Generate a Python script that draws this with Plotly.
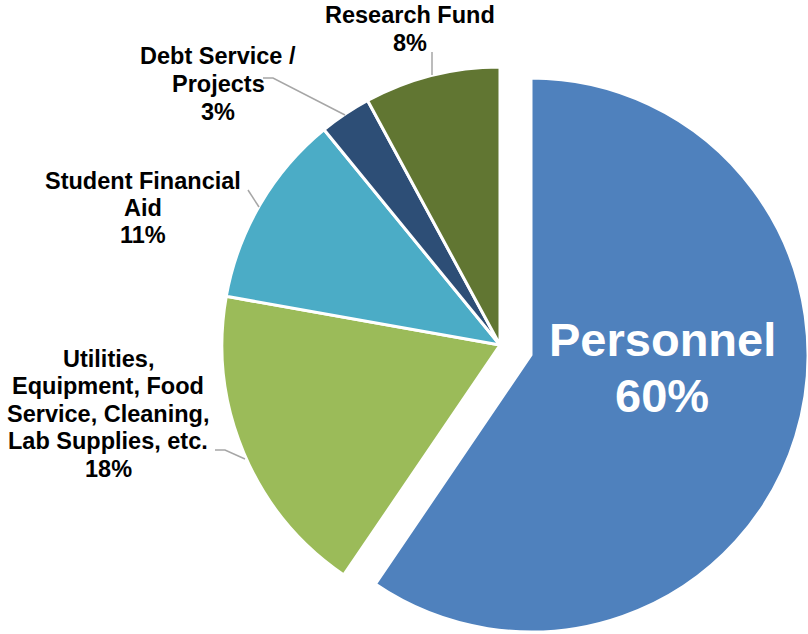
import textwrap
import plotly.graph_objects as go

# ---------------- data ----------------
categories = [
    "Personnel",
    "Utilities, Equipment, Food Service, Cleaning, Lab Supplies, etc.",
    "Student Financial Aid",
    "Debt Service / Projects",
    "Research Fund",
]
values = [59.5, 18.3, 11.3, 3.0, 7.9]
pct_labels = [f"{round(v)}%" for v in values]
colors = ["#4F81BD", "#9BBB59", "#4BACC6", "#2D4E76", "#617632"]

W, H = 808, 634
CLEAR = "rgba(0,0,0,0)"


def px(x):
    return x / W


def py(y):
    return 1 - y / H


def domain(cx, cy, r):
    return dict(x=[max(0, px(cx - r)), min(1, px(cx + r))],
                y=[max(0, py(cy + r)), min(1, py(cy - r))])


fig = go.Figure()

# Unpulled slices (Personnel hidden)
fig.add_trace(go.Pie(
    labels=categories, values=values, sort=False, direction="clockwise", rotation=0,
    marker=dict(colors=[CLEAR] + colors[1:],
                line=dict(color=[CLEAR] + ["white"] * 4, width=3)),
    textinfo="none", hoverinfo="label+percent", showlegend=False,
    domain=domain(500, 345, 278),
))

# Exploded Personnel slice (others hidden)
fig.add_trace(go.Pie(
    labels=categories, values=values, sort=False, direction="clockwise", rotation=0,
    marker=dict(colors=[colors[0]] + [CLEAR] * 4,
                line=dict(color=["white"] + [CLEAR] * 4, width=3)),
    textinfo="none", hoverinfo="label+percent", showlegend=False,
    domain=domain(531, 355, 277),
))

# ---------------- labels ----------------
label_pos = [  # (center x, first baseline y, line spacing, font size, color)
    (662, 356, 56, 47, "white"),
    (108, 367, 27.5, 23.5, "black"),
    (143, 189, 27, 23.5, "black"),
    (218, 64, 28, 23.5, "black"),
    (410, 23, 28, 23.5, "black"),
]

annotations = []
for name, pct, (cx, by, sp, fs, col) in zip(categories, pct_labels, label_pos):
    lines = textwrap.wrap(name, 18) + [pct]
    for i, ln in enumerate(lines):
        annotations.append(dict(
            x=px(cx), y=py(by + i * sp - 0.35 * fs), xref="paper", yref="paper",
            text=f"<b>{ln}</b>", showarrow=False, xanchor="center", yanchor="middle",
            font=dict(family="Liberation Sans, Arial, sans-serif", size=fs, color=col),
        ))

leaders = [
    [(432, 52), (432, 75)],
    [(263, 78), (273, 78), (345, 115)],
    [(248, 190), (259, 207)],
    [(215, 450), (225, 450), (245, 459)],
]
shapes = []
for pts in leaders:
    path = "M " + " L ".join(f"{px(x)},{py(y)}" for x, y in pts)
    shapes.append(dict(type="path", path=path, xref="paper", yref="paper",
                       line=dict(color="#A6A6A6", width=1.5)))

fig.update_layout(
    width=W, height=H,
    margin=dict(l=0, r=0, t=0, b=0),
    paper_bgcolor="white", plot_bgcolor="white",
    annotations=annotations, shapes=shapes,
)

fig.write_html("out.html",
               config={"displayModeBar": False},
               post_script="document.body.style.margin='0';document.body.style.overflow='hidden';")
